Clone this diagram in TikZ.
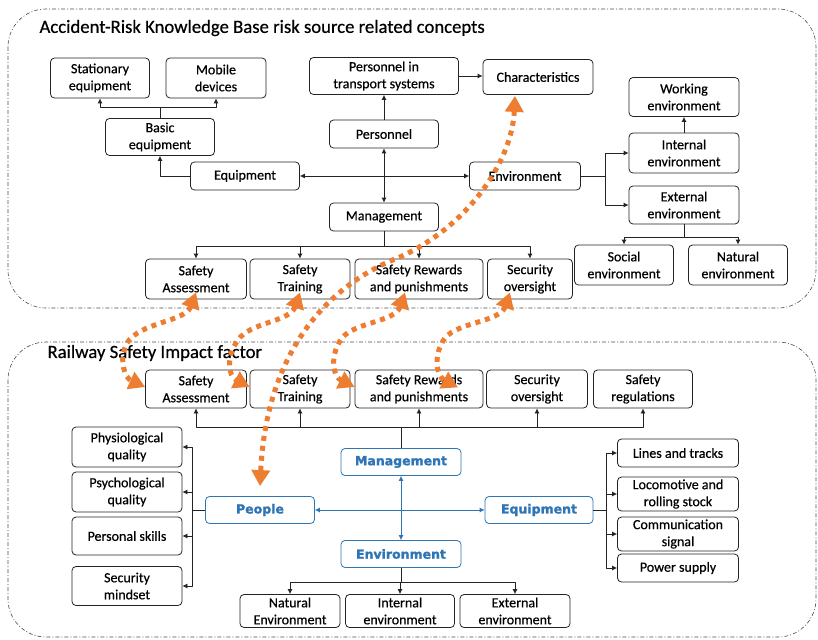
\documentclass[tikz,border=0pt]{standalone}
\usepackage{fontspec}
\setmainfont{Carlito}
\newfontfamily\boxfont{Carlito}[FakeBold=0.5]
\newfontfamily\headfont{DejaVu Sans}[BoldFeatures={FakeBold=1.6}]
\usetikzlibrary{arrows.meta}
\definecolor{rfblue}{RGB}{46,117,182}
\definecolor{rforange}{RGB}{237,125,49}
\definecolor{rfline}{RGB}{35,35,35}

\begin{document}
\begin{tikzpicture}[x=1pt, y=-1pt, >={Latex[length=5pt,width=5pt]}, line join=round,
	box/.style={draw=rfline, line width=0.8pt, rounded corners=4pt, align=center, inner sep=0pt,
		font=\boxfont\fontsize{14}{17}\selectfont},
	bluebox/.style={draw=rfblue, line width=0.8pt, rounded corners=4pt, inner sep=0pt, text=rfblue,
		font=\headfont\bfseries\fontsize{12.5}{15}\selectfont},
	sz/.style 2 args={minimum width=#1pt, minimum height=#2pt},
	frame/.style={draw=black!70, line width=0.6pt, dash pattern=on 4pt off 2pt on 1pt off 2pt,
		rounded corners=38pt},
	link/.style={draw=rfline, line width=0.8pt},
	bluelink/.style={draw=rfblue, line width=0.8pt},
	hint/.style={draw=rforange, line width=5pt, line cap=butt, dash pattern=on 5pt off 5pt,
		{Triangle[length=16pt,width=18pt]}-{Triangle[length=16pt,width=18pt]}},
	title/.style={anchor=west, font=\boxfont\fontsize{18.7}{22}\selectfont}]
\useasboundingbox (0,0) rectangle (818,639);

%========================
% Top: knowledge base
%========================
\draw[frame] (8,9) rectangle (816,308);
\node[title] (ttitle) at (36,28) {Accident-Risk Knowledge Base risk source related concepts};

\node[box, sz={99}{40}] (stat) at (100,78) {Stationary\\equipment};
\node[box, sz={100}{40}] (mob) at (216,78) {Mobile\\devices};
\node[box, sz={109}{37}] (basic) at (160,137) {Basic\\equipment};
\node[box, sz={109}{28}] (equip) at (245,176) {Equipment};
\node[box, sz={149}{37}] (pts) at (384,76) {Personnel in\\transport systems};
\node[box, sz={110}{35}] (charac) at (538,77) {Characteristics};
\node[box, sz={109}{28}] (pers) at (384,134) {Personnel};
\node[box, sz={109}{28}] (mgmt) at (384,217) {Management};
\node[box, sz={111}{28}] (env) at (525,176) {Environment};
\node[box, sz={110}{39}] (work) at (684,97) {Working\\environment};
\node[box, sz={110}{40}] (intenv) at (684,153) {Internal\\environment};
\node[box, sz={110}{38}] (extenv) at (684,205) {External\\environment};
\node[box, sz={99}{40}] (social) at (624,265) {Social\\environment};
\node[box, sz={99}{40}] (natural) at (738,265) {Natural\\environment};
\node[box, sz={101}{40}] (sa) at (196,279) {Safety\\Assessment};
\node[box, sz={100}{40}] (str) at (300,279) {Safety\\Training};
\node[box, sz={128}{40}] (srp) at (419,279) {Safety Rewards\\and punishments};
\node[box, sz={85}{40}] (sov) at (530,279) {Security\\oversight};

% links
\draw[link] (basic.north) -- ++(0,-11) coordinate (bj);
\draw[link,->] (bj) -| (stat.south);
\draw[link,->] (bj) -| (mob.south);
\draw[link,->] (equip.west) -| (basic.south);
\draw[link,<->] (equip) -- (env);
\draw[link,<->] (pers) -- (mgmt);
\draw[link,->] (pers) -- (pts);
\draw[link,->] (pts.east) -- (pts.east -| charac.west);
\draw[link] (env.east) -- ++(24,0) coordinate (ej);
\draw[link,->] (ej) |- (intenv.west);
\draw[link,->] (ej) |- (extenv.west);
\draw[link,->] (intenv) -- (work);
\draw[link] (extenv.south) -- ++(0,13) coordinate (xj);
\draw[link,->] (xj) -| (social.north);
\draw[link,->] (xj) -| (natural.north);
\draw[link] (mgmt.south) -- ++(0,15) coordinate (mj);
\foreach \n in {sa,str,srp,sov}
	\draw[link,->] (mj) -| (\n.north);

%========================
% Bottom: impact factors
%========================
\draw[frame] (8,342) rectangle (816,637);
\node[title] (btitle) at (44,353) {Railway Safety Impact factor};

\node[box, sz={101}{38}] (bsa) at (196,389) {Safety\\Assessment};
\node[box, sz={100}{38}] (bst) at (300,389) {Safety\\Training};
\node[box, sz={128}{38}] (bsrp) at (419,389) {Safety Rewards\\and punishments};
\node[box, sz={101}{38}] (bsov) at (537,389) {Security\\oversight};
\node[box, sz={99}{38}] (bsreg) at (643,389) {Safety\\regulations};

\node[bluebox, sz={120}{27}] (bmgmt) at (401,462) {Management};
\node[bluebox, sz={109}{27}] (bpeople) at (260,510) {People};
\node[bluebox, sz={108}{27}] (bequip) at (539,510) {Equipment};
\node[bluebox, sz={120}{27}] (benv) at (401,554) {Environment};

\node[box, sz={110}{40}] (phys) at (127,447) {Physiological\\quality};
\node[box, sz={110}{40}] (psych) at (127,492) {Psychological\\quality};
\node[box, sz={110}{38}] (skill) at (127,536) {Personal skills};
\node[box, sz={110}{39}] (mind) at (127,586) {Security\\mindset};

\node[box, sz={121}{28}] (lines) at (678,453) {Lines and tracks};
\node[box, sz={121}{34}] (loco) at (678,494) {Locomotive and\\rolling stock};
\node[box, sz={121}{34}] (comm) at (678,534) {Communication\\signal};
\node[box, sz={121}{28}] (power) at (678,568) {Power supply};

\node[box, sz={100}{33}] (bnat) at (290,611) {Natural\\Environment};
\node[box, sz={109}{33}] (bint) at (400,611) {Internal\\environment};
\node[box, sz={110}{33}] (bext) at (515,611) {External\\environment};

% links
\draw[link] (bmgmt.north) -- ++(0,-21) coordinate (bmj);
\foreach \n in {bsa,bst,bsrp,bsov,bsreg}
	\draw[link,->] (bmj) -| (\n.south);
\draw[bluelink,<->] (bpeople) -- (bequip);
\draw[bluelink,<->] (bmgmt) -- (benv);
\draw[link] (bpeople.west) -- ++(-13,0) coordinate (pj);
\foreach \n in {phys,psych,skill,mind}
	\draw[link,->] (pj) |- (\n.east);
\draw[link] (bequip.east) -- ++(13,0) coordinate (qj);
\foreach \n in {lines,loco,comm,power}
	\draw[link,->] (qj) |- (\n.west);
\draw[link] (benv.south) -- ++(0,14) coordinate (nj);
\foreach \n in {bnat,bint,bext}
	\draw[link,->] (nj) -| (\n.north);

%========================
% Correspondences
%========================
\draw[hint] ([xshift=-23pt,yshift=-1pt]charac.south) .. controls (512,160) and (470,225) .. (400,257)
	.. controls (320,288) and (266,360) .. ([yshift=10pt]bpeople.north);
\draw[hint] ([yshift=7pt]sa.south) .. controls (185,322) and (140,322) .. (127,343)
	.. controls (118,360) and (125,378) .. ([yshift=2pt]bsa.west);
\draw[hint] ([yshift=7pt]str.south) .. controls (290,322) and (250,322) .. (238,340)
	.. controls (226,356) and (228,376) .. ([yshift=2pt]bst.west);
\draw[hint] ([xshift=-14pt,yshift=7pt]srp.south) .. controls (395,322) and (355,322) .. (342,338)
	.. controls (330,354) and (332,376) .. ([yshift=2pt]bsrp.west);
\draw[hint] ([xshift=-20pt,yshift=7pt]sov.south) .. controls (500,322) and (458,322) .. (445,338)
	.. controls (433,354) and (436,376) .. ([xshift=39pt,yshift=21pt]bsrp.south);
\end{tikzpicture}
\end{document}
